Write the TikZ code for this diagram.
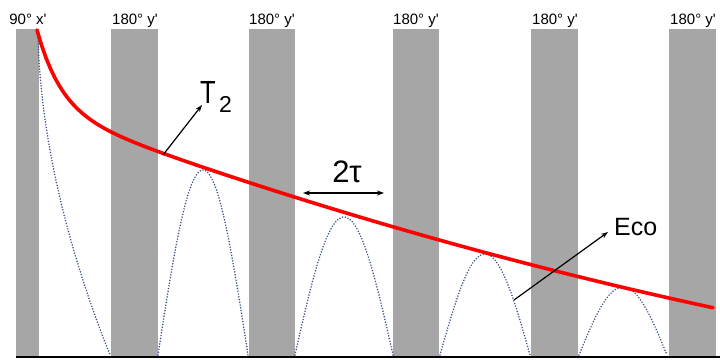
\documentclass[tikz,border=0pt]{standalone}
\usepackage{fontspec}
\setmainfont{Liberation Sans}
\usetikzlibrary{arrows.meta}
\definecolor{barg}{HTML}{A6A6A6}
\definecolor{redc}{HTML}{FF0000}
\definecolor{dotc}{rgb}{0.24,0.32,0.50}
\begin{document}
\begin{tikzpicture}[x=1pt,y=-1pt,
  toplabel/.style={anchor=base,font=\fontsize{15}{15}\selectfont,inner sep=0pt},
  biglabel/.style={inner sep=0pt},
  dots/.style={draw=dotc,line width=1.7pt,line cap=round,dash pattern=on 0pt off 2.8pt},
  arr/.style={draw=black,line width=1.2pt,-{Stealth[length=7pt,width=5pt]}},
  darr/.style={draw=black,line width=1.2pt,{Stealth[length=7pt,width=5pt]}-{Stealth[length=7pt,width=5pt]}},
  decay/.style={draw=redc,line width=3.6pt,line cap=round}]
\useasboundingbox (0,0) rectangle (720,359);
\fill[white] (0,0) rectangle (720,359);
% pulse bars
\foreach \a/\b in {16/39,111/158,249/295,393/439,531/578,669/716}
  \fill[barg] (\a,29) rectangle (\b,357);
% baseline
\draw[line width=2pt] (16,357) -- (720,357);
% top labels
\node[toplabel] (p0) at (28,24) {90°\ x\textquotesingle};
\node[toplabel] (p1) at (135,24) {180°\ y\textquotesingle};
\node[toplabel] (p2) at (272,24) {180°\ y\textquotesingle};
\node[toplabel] (p3) at (416,24) {180°\ y\textquotesingle};
\node[toplabel] (p4) at (555,24) {180°\ y\textquotesingle};
\node[toplabel] (p5) at (693,24) {180°\ y\textquotesingle};
% echo train (dotted)
\draw[dots] (38,30) -- plot[domain=30.5:355,samples=70,variable=\t] ({38+72*((\t-30)/325)^1.8},\t);
\draw[dots] plot[domain=158:248,samples=70] (\x,{355-185*cos(90*(\x-203)/45)});
\draw[dots] plot[domain=295:393,samples=70] (\x,{355-138*cos(90*(\x-344)/49)});
\draw[dots] plot[domain=440:530,samples=70] (\x,{355-101*cos(90*(\x-485)/45)});
\draw[dots] plot[domain=579:667,samples=70] (\x,{355-68*cos(90*(\x-623)/44)});
% T2 decay
\draw[decay] plot[domain=37:713,samples=150] (\x,{168+0.335*(\x-205)-1.18*((\x-205)/100)^2-78.4*exp(-(\x-37)/24)});
% labels
\node[biglabel,anchor=base west,font=\fontsize{32}{32}\selectfont] (T2) at (200,103) {\scalebox{0.8}[1]{T}};
\node[biglabel,anchor=base west,font=\fontsize{23}{23}\selectfont] (T2sub) at (219,112) {2};
\node[biglabel,anchor=base,font=\fontsize{31}{31}\selectfont] (tau) at (347,182) {2τ};
\node[biglabel,anchor=base west,font=\fontsize{25}{25}\selectfont] (eco) at (614,235) {Eco};
% arrows
\coordinate (t2s) at (163,155);
\coordinate (t2e) at (202,105);
\draw[arr] (t2s) -- (t2e);
\coordinate (ecos) at (514,300);
\coordinate (ecoe) at (608,232);
\draw[arr] (ecos) -- (ecoe);
\coordinate (taul) at (303,193);
\coordinate (taur) at (384,193);
\draw[darr] (taul) -- (taur);
\end{tikzpicture}
\end{document}
